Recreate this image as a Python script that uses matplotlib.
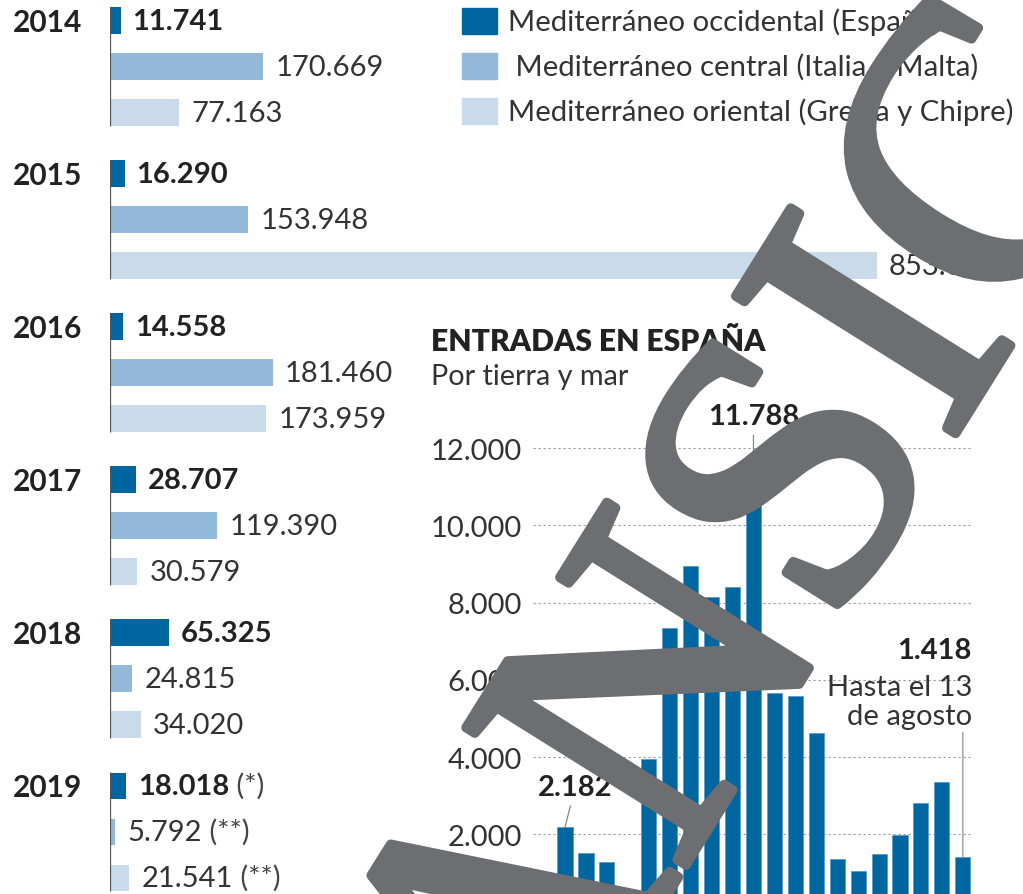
import matplotlib.pyplot as plt
import matplotlib.patheffects as pe

plt.rcParams['font.family'] = ['Lato', 'DejaVu Sans']

# yearly arrivals by route
years = ['2014', '2015', '2016', '2017', '2018', '2019']
occidental = [11741, 16290, 14558, 28707, 65325, 18018]
central = [170669, 153948, 181460, 119390, 24815, 5792]
oriental = [77163, 853650, 173959, 30579, 34020, 21541]
notes_occ = ['', '', '', '', '', ' (*)']
notes_other = ['', '', '', '', '', ' (**)']

legend_labels = ['Mediterráneo occidental (España)',
                 ' Mediterráneo central (Italia y Malta)',
                 'Mediterráneo oriental (Grecia y Chipre)']

# monthly entries in Spain, jan 2018 - aug 2019
months = list(range(20))
monthly = [2182, 1523, 1290, 490, 3951, 7337, 8959, 8150, 8415, 11788,
           5653, 5591, 4617, 1360, 1041, 1482, 1982, 2803, 3347, 1418]
yticks = [2000, 4000, 6000, 8000, 10000, 12000]

c_occ = '#00669f'
c_cen = '#93b8d9'
c_ori = '#c9dbeb'
txt = '#222222'
txt2 = '#333333'

W, H = 1023, 895
fig = plt.figure(figsize=(W / 100, H / 100), dpi=100)
fig.patch.set_facecolor('white')

# ---- left: horizontal bars by year ----
ax1 = fig.add_axes([110 / W, 0, 1 - 110 / W, 1])
ax1.set_xlim(0, 913 / 0.000898)
ax1.set_ylim(H, 0)
ax1.axis('off')

row_gap = 46
for g, yr in enumerate(years):
    y0 = 21.5 + 153.05 * g
    rows = [(occidental[g], c_occ, 'bold', txt, notes_occ[g]),
            (central[g], c_cen, 'normal', txt2, notes_other[g]),
            (oriental[g], c_ori, 'normal', txt2, notes_other[g])]
    for k, (v, col, w, tc, note) in enumerate(rows):
        y = y0 + k * row_gap
        ax1.barh(y, v, height=26.5, color=col, edgecolor='none')
        lab = f'{v:,}'.replace(',', '.')
        t = ax1.annotate(lab, xy=(v, y), xytext=(12, 0), textcoords='offset pixels',
                         ha='left', va='center', fontsize=21, fontweight=w, color=tc)
        if note:
            fig.canvas.draw()
            bb = t.get_window_extent()
            fig.text(bb.x1 / W, (H - y) / H, note, ha='left', va='center',
                     fontsize=21, color='#444444')
    ax1.vlines(0, y0 - 13.5, y0 + 2 * row_gap + 13.5, color='#555555', lw=0.9)
    fig.text(13 / W, (H - y0 - 1) / H, yr, ha='left', va='center',
             fontsize=21.5, fontweight='bold', color=txt)

# legend
for k, (lab, col) in enumerate(zip(legend_labels, [c_occ, c_cen, c_ori])):
    yc = 21.8 + 45 * k
    fig.patches.append(plt.Rectangle((461.5 / W, (H - yc - 13) / H), 35.5 / W, 26 / H,
                                     transform=fig.transFigure, color=col, zorder=2))
    fig.text(508.5 / W, (H - yc) / H, lab, ha='left', va='center',
             fontsize=21.2, color=txt2)

# ---- right: monthly entries in Spain ----
zero_px, top_px = 912.5, 449.2
ax2 = fig.add_axes([533 / W, (H - zero_px) / H, 439 / W, (zero_px - top_px) / H])
ax2.set_xlim(-1.53, 19.44)
ax2.set_ylim(0, 12000)
ax2.bar(months, monthly, width=0.72, color=c_occ, edgecolor='#5c9ccb', linewidth=0.6, zorder=3)
ax2.set_yticks(yticks)
ax2.set_yticklabels([f'{v:,}'.replace(',', '.') for v in yticks], fontsize=21, color=txt2)
ax2.tick_params(axis='y', length=0, pad=8)
ax2.tick_params(axis='x', bottom=False, labelbottom=False)
ax2.grid(axis='y', color='#999999', lw=0.8, linestyle=(0, (2, 2.5)), zorder=0)
for s in ax2.spines.values():
    s.set_visible(False)
ax2.set_facecolor('none')

fig.text(431 / W, (H - 342.5) / H, 'ENTRADAS EN ESPAÑA', ha='left', va='center',
         fontsize=21.6, fontweight='heavy', color=txt)
fig.text(431 / W, (H - 385) / H, 'Por tierra y mar', ha='left', va='baseline',
         fontsize=20.8, color=txt2)

line_kw = dict(arrowstyle='-', color='#888888', lw=0.9, shrinkA=2, shrinkB=0)
peak = monthly.index(max(monthly))
ax2.annotate(f'{monthly[peak]:,}'.replace(',', '.'), xy=(peak, monthly[peak]),
             xytext=(0, 27), textcoords='offset pixels', ha='center', va='bottom',
             fontsize=21, fontweight='bold', color=txt, arrowprops=line_kw)
ax2.annotate(f'{monthly[0]:,}'.replace(',', '.'), xy=(0, monthly[0]),
             xytext=(10, 27), textcoords='offset pixels', ha='center', va='bottom',
             fontsize=21, fontweight='bold', color=txt, arrowprops=line_kw)

last = len(monthly) - 1
ax2.annotate('', xy=(last, monthly[last]), xytext=(0, 124), textcoords='offset pixels',
             arrowprops=dict(arrowstyle='-', color='#aaaaaa', lw=1.2, shrinkA=0, shrinkB=0))
for s, dy, w in [(f'{monthly[last]:,}'.replace(',', '.'), 207, 'bold'),
                 ('Hasta el 13', 170, 'normal'), ('de agosto', 141, 'normal')]:
    ax2.annotate(s, xy=(1.0, monthly[last]), xycoords=('axes fraction', 'data'),
                 xytext=(0, dy), textcoords='offset pixels', ha='right', va='center',
                 fontsize=21, fontweight=w, color=txt if w == 'bold' else txt2)

# watermark
wm = '#6d6e71'
fig.text(0.745, 0.37, 'ANSIC', rotation=58, rotation_mode='anchor', ha='center', va='center',
         fontsize=285, family='Liberation Serif', color=wm, zorder=10,
         path_effects=[pe.withStroke(linewidth=7, foreground=wm)])

fig.savefig('out.png', dpi=100, facecolor='white')
